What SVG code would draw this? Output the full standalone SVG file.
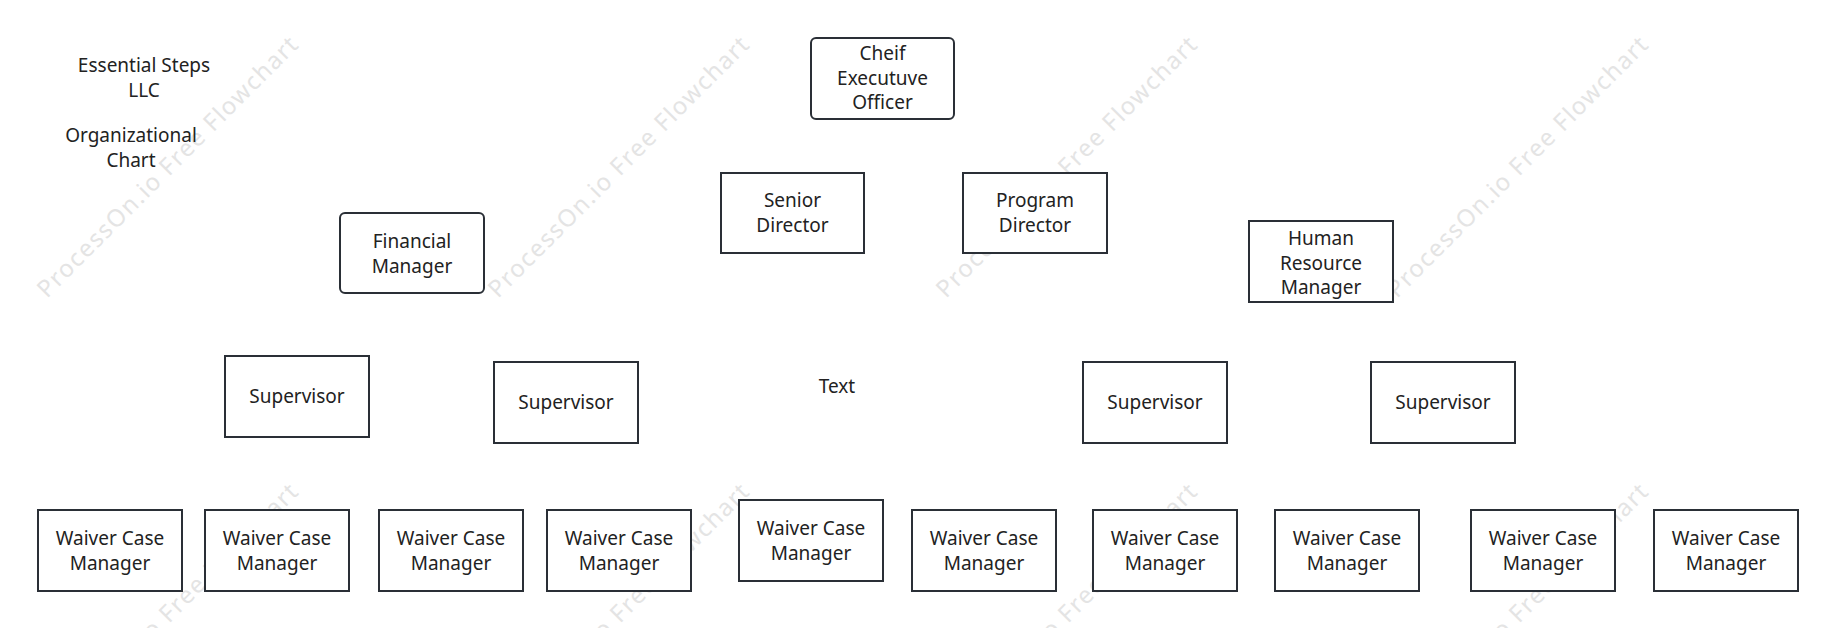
<svg xmlns="http://www.w3.org/2000/svg" width="1836" height="628" viewBox="0 0 1836 628">
<style>
.b{fill:#fff;stroke:#2a2f36;stroke-width:2}
.t{font-family:"Noto Sans","Open Sans",sans-serif;font-size:19px;fill:#222;text-anchor:middle}
.w{font-family:"Noto Sans","Open Sans",sans-serif;font-size:24px;fill:#e4e4e4}
</style>
<rect width="1836" height="628" fill="#fff"/>
<g id="watermarks">
<text class="w" transform="translate(47,299) rotate(-45)" textLength="357">ProcessOn.io Free Flowchart</text>
<text class="w" transform="translate(498,299) rotate(-45)" textLength="357">ProcessOn.io Free Flowchart</text>
<text class="w" transform="translate(946,299) rotate(-45)" textLength="357">ProcessOn.io Free Flowchart</text>
<text class="w" transform="translate(1397,299) rotate(-45)" textLength="357">ProcessOn.io Free Flowchart</text>
<text class="w" transform="translate(47,746) rotate(-45)" textLength="357">ProcessOn.io Free Flowchart</text>
<text class="w" transform="translate(498,746) rotate(-45)" textLength="357">ProcessOn.io Free Flowchart</text>
<text class="w" transform="translate(946,746) rotate(-45)" textLength="357">ProcessOn.io Free Flowchart</text>
<text class="w" transform="translate(1397,746) rotate(-45)" textLength="357">ProcessOn.io Free Flowchart</text>
</g>
<g id="connectors"></g>
<g id="title"><text class="t"><tspan x="144" y="72">Essential Steps</tspan><tspan x="144" y="97">LLC</tspan><tspan x="131" y="142">Organizational</tspan><tspan x="131" y="167">Chart</tspan></text></g>
<g id="ceo"><rect class="b" x="811" y="38" width="143" height="81" rx="5"/><text class="t"><tspan x="882.5" y="60">Cheif</tspan><tspan x="882.5" y="85">Executuve</tspan><tspan x="882.5" y="109">Officer</tspan></text></g>
<g id="senior"><rect class="b" x="721" y="173" width="143" height="80"/><text class="t"><tspan x="792.5" y="207">Senior</tspan><tspan x="792.5" y="232">Director</tspan></text></g>
<g id="program"><rect class="b" x="963" y="173" width="144" height="80"/><text class="t"><tspan x="1035" y="207">Program</tspan><tspan x="1035" y="232">Director</tspan></text></g>
<g id="financial"><rect class="b" x="340" y="213" width="144" height="80" rx="5"/><text class="t"><tspan x="412" y="248">Financial</tspan><tspan x="412" y="273">Manager</tspan></text></g>
<g id="hr"><rect class="b" x="1249" y="221" width="144" height="81"/><text class="t"><tspan x="1321" y="245">Human</tspan><tspan x="1321" y="270">Resource</tspan><tspan x="1321" y="294">Manager</tspan></text></g>
<g id="sup1"><rect class="b" x="225" y="356" width="144" height="81"/><text class="t" x="297" y="403">Supervisor</text></g>
<g id="sup2"><rect class="b" x="494" y="362" width="144" height="81"/><text class="t" x="566" y="409">Supervisor</text></g>
<g id="txt"><text class="t" x="837" y="393">Text</text></g>
<g id="sup3"><rect class="b" x="1083" y="362" width="144" height="81"/><text class="t" x="1155" y="409">Supervisor</text></g>
<g id="sup4"><rect class="b" x="1371" y="362" width="144" height="81"/><text class="t" x="1443" y="409">Supervisor</text></g>
<g id="w1"><rect class="b" x="38" y="510" width="144" height="81"/><text class="t"><tspan x="110" y="545">Waiver Case</tspan><tspan x="110" y="570">Manager</tspan></text></g>
<g id="w2"><rect class="b" x="205" y="510" width="144" height="81"/><text class="t"><tspan x="277" y="545">Waiver Case</tspan><tspan x="277" y="570">Manager</tspan></text></g>
<g id="w3"><rect class="b" x="379" y="510" width="144" height="81"/><text class="t"><tspan x="451" y="545">Waiver Case</tspan><tspan x="451" y="570">Manager</tspan></text></g>
<g id="w4"><rect class="b" x="547" y="510" width="144" height="81"/><text class="t"><tspan x="619" y="545">Waiver Case</tspan><tspan x="619" y="570">Manager</tspan></text></g>
<g id="w5"><rect class="b" x="739" y="500" width="144" height="81"/><text class="t"><tspan x="811" y="535">Waiver Case</tspan><tspan x="811" y="560">Manager</tspan></text></g>
<g id="w6"><rect class="b" x="912" y="510" width="144" height="81"/><text class="t"><tspan x="984" y="545">Waiver Case</tspan><tspan x="984" y="570">Manager</tspan></text></g>
<g id="w7"><rect class="b" x="1093" y="510" width="144" height="81"/><text class="t"><tspan x="1165" y="545">Waiver Case</tspan><tspan x="1165" y="570">Manager</tspan></text></g>
<g id="w8"><rect class="b" x="1275" y="510" width="144" height="81"/><text class="t"><tspan x="1347" y="545">Waiver Case</tspan><tspan x="1347" y="570">Manager</tspan></text></g>
<g id="w9"><rect class="b" x="1471" y="510" width="144" height="81"/><text class="t"><tspan x="1543" y="545">Waiver Case</tspan><tspan x="1543" y="570">Manager</tspan></text></g>
<g id="w10"><rect class="b" x="1654" y="510" width="144" height="81"/><text class="t"><tspan x="1726" y="545">Waiver Case</tspan><tspan x="1726" y="570">Manager</tspan></text></g>
</svg>
